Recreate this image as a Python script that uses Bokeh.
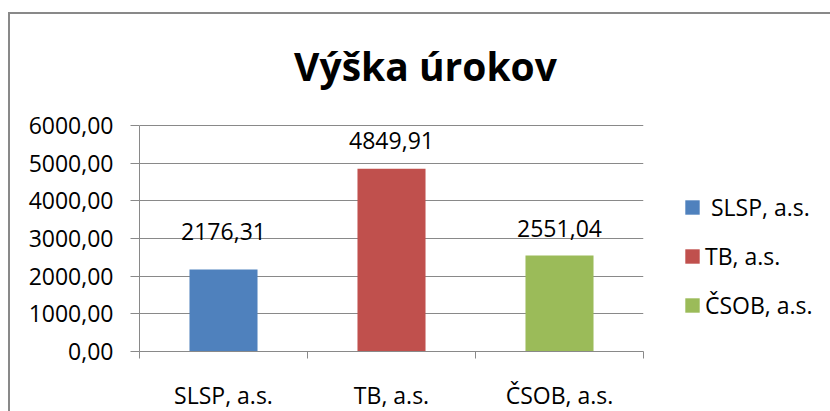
from bokeh.plotting import figure
from bokeh.models import (Range1d, FixedTicker, Legend, LegendItem, Label,
                          ColumnDataSource)
from bokeh.core.properties import value
from bokeh.embed import file_html
from bokeh.resources import INLINE

# ---- data ----
title_text = "Výška úrokov"
banks = ["SLSP, a.s.", "TB, a.s.", "ČSOB, a.s."]
legend_labels = [" SLSP, a.s.", "TB, a.s.", "ČSOB, a.s."]
interest = [2176.31, 4849.91, 2551.04]
value_labels = ["2176,31", "4849,91", "2551,04"]
y_ticks = [0, 1000, 2000, 3000, 4000, 5000, 6000]
y_tick_labels = ["0,00", "1000,00", "2000,00", "3000,00", "4000,00", "5000,00", "6000,00"]
y_max = 6000

# ---- style ----
colors = ["#4F81BD", "#C0504D", "#9BBB59"]
label_offsets = [-38, -28, -27]
FONT = "Open Sans"
FS = "23px"
GREY = "#898989"
AXIS_H = 226          # pixel height of the 0..6000 value axis
FRAME_H = 331         # frame reaches up to hold the title

centers = [i + 0.5 for i in range(len(banks))]

p = figure(frame_width=504, frame_height=FRAME_H,
           min_border_left=129, min_border_top=6,
           min_border_right=181, min_border_bottom=58,
           x_range=Range1d(0, len(banks)),
           y_range=Range1d(0, y_max * FRAME_H / AXIS_H),
           toolbar_location=None, output_backend="svg",
           background_fill_color="white", border_fill_color="white",
           outline_line_color=None)
p.styles = {"border-left": f"2px solid {GREY}", "border-top": f"2px solid {GREY}",
            "margin-top": "12px", "margin-left": "8px"}

src = ColumnDataSource(dict(x=centers, top=interest, color=colors,
                            lab=value_labels, off=label_offsets))
bars = p.vbar(x="x", top="top", width=0.405, fill_color="color",
              line_color=None, source=src)
p.text(x="x", y="top", text="lab", y_offset="off", source=src,
       text_align="center", text_baseline="alphabetic",
       text_font=value(FONT), text_font_size=FS, text_color="black")

# y axis
yax = p.yaxis[0]
yax.ticker = FixedTicker(ticks=y_ticks)
yax.bounds = (0, y_max)
yax.major_label_overrides = {t: l for t, l in zip(y_ticks, y_tick_labels)}
yax.axis_line_color = GREY
yax.major_tick_line_color = GREY
yax.major_tick_out = 9
yax.major_tick_in = 0
yax.minor_tick_line_color = None
yax.major_label_standoff = 17
yax.major_label_text_font = FONT
yax.major_label_text_font_size = FS
yax.major_label_text_color = "black"

# x axis
xax = p.xaxis[0]
xax.ticker = FixedTicker(ticks=centers, minor_ticks=list(range(len(banks) + 1)))
xax.major_label_overrides = {c: b for c, b in zip(centers, banks)}
xax.axis_line_color = GREY
xax.major_tick_line_color = None
xax.major_tick_out = 0
xax.major_tick_in = 0
xax.minor_tick_line_color = GREY
xax.minor_tick_out = 7
xax.minor_tick_in = 0
xax.major_label_standoff = 20
xax.major_label_text_font = FONT
xax.major_label_text_font_size = FS
xax.major_label_text_color = "black"

p.xgrid.grid_line_color = None
p.ygrid.ticker = FixedTicker(ticks=y_ticks)
p.ygrid.grid_line_color = GREY
p.ygrid.grid_line_width = 1

# legend
items = [LegendItem(label=legend_labels[i], renderers=[bars], index=i)
         for i in range(len(banks))]
legend = Legend(items=items, location=(40, 30), orientation="vertical",
                glyph_width=18, glyph_height=18, label_height=14,
                spacing=17, padding=0, margin=0, label_standoff=4,
                border_line_color=None, background_fill_alpha=0,
                label_text_font=FONT, label_text_font_size=FS,
                label_text_color="black")
p.add_layout(legend, "right")

# title
p.add_layout(Label(x=286, y=286, x_units="screen", y_units="screen",
                   text=title_text, text_align="center",
                   text_baseline="alphabetic", text_font=FONT,
                   text_font_size="39px", text_font_style="bold",
                   text_color="black"))

open("out.html", "w").write(file_html(p, INLINE))
